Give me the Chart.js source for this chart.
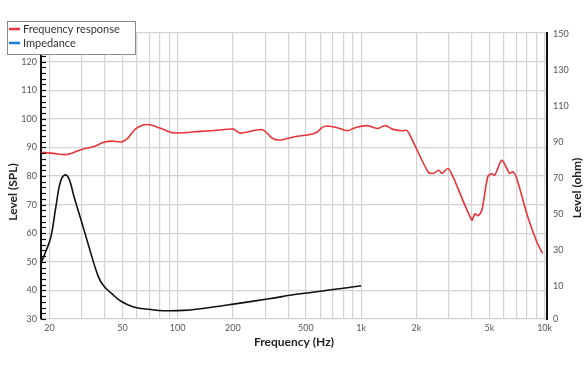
<!DOCTYPE html>
<html>
<head>
<meta charset="utf-8">
<script src="https://cdn.jsdelivr.net/npm/chart.js@4.4.1/dist/chart.umd.min.js"></script>
<style>
  html, body { margin: 0; padding: 0; background: #fff; }
  canvas { display: block; }
</style>
</head>
<body>
<canvas id="chart" width="588" height="372"></canvas>
<script>
// Frequency response (dB SPL, left axis)
const splFreq = [18, 21, 25, 30, 35, 40, 44, 49, 53, 59, 68, 80, 95, 133, 171, 201, 220, 290, 328, 363, 449, 528, 577, 614, 654, 741, 839, 927, 1078, 1222, 1350, 1492, 1670, 1779, 1918, 2313, 2462, 2652, 2755, 2970, 3164, 4011, 4167, 4325, 4548, 4902, 5154, 5348, 5838, 6213, 6450, 6698, 7045, 8085, 9053, 9755]
const splLevel = [88.3, 87.9, 87.5, 89.3, 90.3, 91.9, 92.2, 91.9, 93.0, 96.5, 98.0, 96.8, 95.1, 95.6, 96.1, 96.4, 95.0, 96.2, 93.2, 92.6, 93.9, 94.5, 95.4, 97.0, 97.5, 96.9, 95.8, 96.9, 97.6, 96.6, 97.6, 96.3, 95.8, 95.9, 92.0, 81.5, 80.9, 82.0, 80.9, 82.6, 79.8, 64.6, 66.8, 66.1, 68.1, 79.8, 80.8, 80.3, 85.5, 82.7, 80.9, 81.5, 79.1, 65.8, 57.0, 52.9]

// Impedance curve (drawn in black, read against the left scale)
const impFreq = [18, 19.1, 20.4, 21.7, 23.0, 24.4, 25.7, 27.2, 29.7, 32.4, 36.9, 39.6, 43.3, 49.1, 57.6, 71.4, 84.1, 108, 133, 201, 308, 466, 704, 1000]
const impLevel = [49.5, 53.6, 58.8, 69.3, 78.1, 80.4, 78.7, 72.9, 64.8, 56.6, 44.9, 41.5, 39.1, 36.2, 34.2, 33.3, 32.9, 33.0, 33.6, 35.2, 37.0, 38.8, 40.3, 41.6]

// Axes
const freqGrid = [20, 30, 40, 50, 60, 70, 80, 90, 100, 200, 300, 400, 500, 600, 700, 800, 900, 1000, 2000, 3000, 4000, 5000, 6000, 7000, 8000, 9000, 10000]
const freqLabelValues = [20, 50, 100, 200, 500, 1000, 2000, 5000, 10000]
const freqLabels = ['20', '50', '100', '200', '500', '1k', '2k', '5k', '10k']
const ohmTicks = [0, 10, 30, 50, 70, 90, 110, 130, 150]

const FONT = 'Lato, "Open Sans", sans-serif'
const GRID = '#d3d3d3'

// titles, inward minor ticks and the boxed legend
const decorations = {
    id: 'decorations',
    afterDraw(chart) {
        const { ctx, chartArea, scales } = chart
        ctx.save()

        ctx.strokeStyle = '#111'
        ctx.lineWidth = 1.2
        for (let v = 30; v <= 130; v += 2) {
            const py = Math.round(scales.y.getPixelForValue(v)) + 0.5
            ctx.beginPath()
            ctx.moveTo(chartArea.left, py)
            ctx.lineTo(chartArea.left + 5, py)
            ctx.stroke()
        }

        ctx.fillStyle = '#222'
        ctx.font = 'bold 12px ' + FONT
        ctx.textAlign = 'center'
        ctx.textBaseline = 'middle'
        ctx.fillText('Frequency (Hz)', (chartArea.left + chartArea.right) / 2, 342)
        ;[['Level (SPL)', 13, 192], ['Level (ohm)', 577, 188]].forEach(([t, x, y]) => {
            ctx.save()
            ctx.translate(x, y)
            ctx.rotate(-Math.PI / 2)
            ctx.fillText(t, 0, 0)
            ctx.restore()
        })

        // legend box
        ctx.fillStyle = '#fff'
        ctx.fillRect(7.5, 21.5, 128, 33)
        ctx.strokeStyle = '#8a8a8a'
        ctx.lineWidth = 1
        ctx.strokeRect(7.5, 21.5, 128, 33)
        const items = [['Frequency response', '#e8353b', 29], ['Impedance', '#1a7fd4', 43]]
        ctx.font = '11px ' + FONT
        ctx.textAlign = 'left'
        items.forEach(([t, c, y]) => {
            ctx.strokeStyle = c
            ctx.lineWidth = 2.5
            ctx.beginPath()
            ctx.moveTo(9, y)
            ctx.lineTo(20, y)
            ctx.stroke()
            ctx.fillStyle = '#333'
            ctx.fillText(t, 23, y + 0.5)
        })
        ctx.restore()
    }
}

new Chart(document.getElementById('chart'), {
    type: 'line',
    data: {
        datasets: [{
            label: 'Frequency response',
            data: splFreq.map((f, i) => ({ x: f, y: splLevel[i] })),
            borderColor: '#e8353b',
            borderWidth: 1.6,
            pointRadius: 0,
            tension: 0.3,
            yAxisID: 'y'
        }, {
            label: 'Impedance',
            data: impFreq.map((f, i) => ({ x: f, y: impLevel[i] })),
            borderColor: '#111',
            borderWidth: 1.6,
            pointRadius: 0,
            tension: 0.4,
            yAxisID: 'y'
        }]
    },
    options: {
        responsive: false,
        animation: false,
        layout: { padding: { top: 33, left: 0, right: 0, bottom: 0 } },
        plugins: { legend: { display: false }, tooltip: { enabled: false } },
        scales: {
            x: {
                type: 'logarithmic',
                min: 18,
                max: 10300,
                afterBuildTicks: s => { s.ticks = freqGrid.map(v => ({ value: v })) },
                afterFit: s => { s.height = 53 },
                grid: { color: GRID, lineWidth: 1.2, drawTicks: false },
                border: { display: false },
                ticks: {
                    autoSkip: false,
                    maxRotation: 0,
                    padding: 4,
                    color: '#555',
                    font: { family: FONT, size: 9 },
                    callback: v => {
                        const i = freqLabelValues.indexOf(v)
                        return i >= 0 ? freqLabels[i] : ''
                    }
                }
            },
            y: {
                position: 'left',
                min: 30,
                max: 130,
                afterFit: s => { s.width = 41 },
                grid: { color: GRID, lineWidth: 1.2, drawTicks: false },
                border: { color: '#111', width: 2 },
                ticks: { stepSize: 10, padding: 4, color: '#555', font: { family: FONT, size: 9 } }
            },
            y1: {
                position: 'right',
                min: -8,
                max: 150.5,
                afterBuildTicks: s => { s.ticks = ohmTicks.map(v => ({ value: v === 0 ? s.min : v })) },
                afterFit: s => { s.width = 41 },
                grid: { display: false, drawTicks: false },
                border: { color: '#111', width: 2 },
                ticks: { padding: 6, color: '#555', font: { family: FONT, size: 9 }, callback: (v, i) => String(ohmTicks[i]) }
            }
        }
    },
    plugins: [decorations]
})
</script>
</body>
</html>
